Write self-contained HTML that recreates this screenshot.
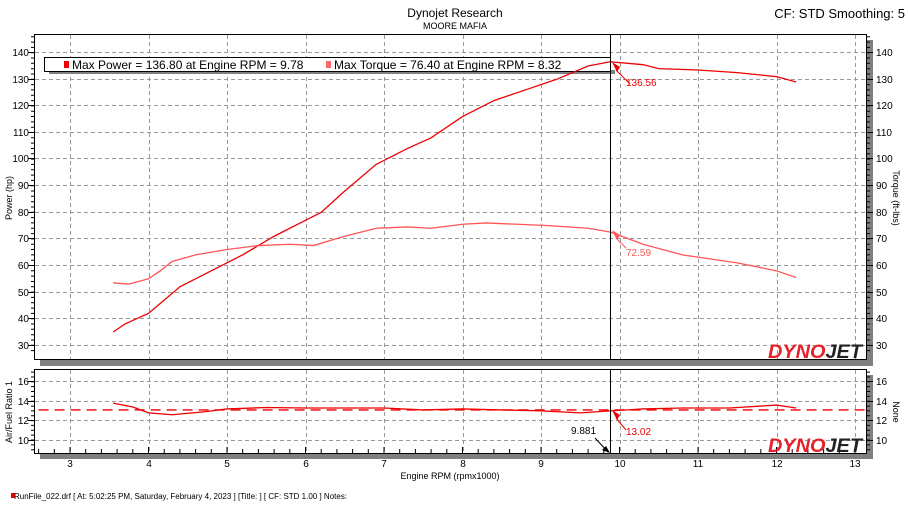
<!DOCTYPE html>
<html><head><meta charset="utf-8"><style>
body{margin:0;background:#fff;width:910px;height:512px;overflow:hidden;font-family:"Liberation Sans","DejaVu Sans",sans-serif}
</style></head><body>
<svg width="910" height="512" viewBox="0 0 910 512" xmlns="http://www.w3.org/2000/svg" font-family="Liberation Sans, DejaVu Sans, sans-serif">
<rect width="910" height="512" fill="#fff"/>
<text x="455" y="17" font-size="12" text-anchor="middle">Dynojet Research</text>
<text x="455" y="29" font-size="9" text-anchor="middle">MOORE MAFIA</text>
<text x="905" y="18" font-size="13" text-anchor="end">CF: STD Smoothing: 5</text>
<rect x="867" y="40" width="6" height="326" fill="#808080"/>
<rect x="40" y="359" width="833" height="7" fill="#808080"/>
<rect x="867" y="375" width="6" height="84" fill="#808080"/>
<rect x="40" y="453" width="833" height="6" fill="#808080"/>
<rect x="34.5" y="34.5" width="832" height="325" fill="#fff" stroke="#000"/>
<rect x="34.5" y="369.5" width="832" height="84" fill="#fff" stroke="#000"/>
<g stroke="#999" stroke-dasharray="4,3" stroke-width="1">
<path d="M70.5 35V359M149.5 35V359M227.5 35V359M306.5 35V359M384.5 35V359M463.5 35V359M541.5 35V359M620.5 35V359M698.5 35V359M777.5 35V359M855.5 35V359"/>
<path d="M70.5 370V453M149.5 370V453M227.5 370V453M306.5 370V453M384.5 370V453M463.5 370V453M541.5 370V453M620.5 370V453M698.5 370V453M777.5 370V453M855.5 370V453"/>
<path d="M35 52.5H866M35 79.5H866M35 105.5H866M35 132.5H866M35 158.5H866M35 185.5H866M35 212.5H866M35 238.5H866M35 265.5H866M35 292.5H866M35 318.5H866M35 345.5H866"/>
<path d="M35 381.5H866M35 401.5H866M35 420.5H866M35 440.5H866"/>
</g>
<g font-size="10" text-anchor="end" fill="#000">
<text x="29" y="56">140</text><text x="29" y="83">130</text><text x="29" y="109">120</text><text x="29" y="136">110</text><text x="29" y="162">100</text><text x="29" y="189">90</text><text x="29" y="216">80</text><text x="29" y="242">70</text><text x="29" y="269">60</text><text x="29" y="296">50</text><text x="29" y="322">40</text><text x="29" y="349">30</text>
<text x="29" y="385">16</text><text x="29" y="405">14</text><text x="29" y="424">12</text><text x="29" y="444">10</text>
</g>
<g font-size="10" fill="#000">
<text x="876" y="56">140</text><text x="876" y="83">130</text><text x="876" y="109">120</text><text x="876" y="136">110</text><text x="876" y="162">100</text><text x="876" y="189">90</text><text x="876" y="216">80</text><text x="876" y="242">70</text><text x="876" y="269">60</text><text x="876" y="296">50</text><text x="876" y="322">40</text><text x="876" y="349">30</text>
<text x="876" y="385">16</text><text x="876" y="405">14</text><text x="876" y="424">12</text><text x="876" y="444">10</text>
</g>
<g font-size="10" text-anchor="middle">
<text x="70" y="467">3</text><text x="149" y="467">4</text><text x="227" y="467">5</text><text x="306" y="467">6</text><text x="384" y="467">7</text><text x="463" y="467">8</text><text x="541" y="467">9</text><text x="620" y="467">10</text><text x="698" y="467">11</text><text x="777" y="467">12</text><text x="855" y="467">13</text>
<text x="450" y="479" font-size="9">Engine RPM (rpmx1000)</text>
</g>
<text font-size="9" transform="translate(12,198) rotate(-90)" text-anchor="middle">Power (hp)</text>
<text font-size="9" transform="translate(12,412) rotate(-90)" text-anchor="middle">Air/Fuel Ratio 1</text>
<text font-size="9" transform="translate(893,198) rotate(90)" text-anchor="middle">Torque (ft-lbs)</text>
<text font-size="9" transform="translate(893,412) rotate(90)" text-anchor="middle">None</text>
<g stroke="#000" id="ticks">
<path d="M34 52.5h-6M34 79.5h-6M34 105.5h-6M34 132.5h-6M34 158.5h-6M34 185.5h-6M34 212.5h-6M34 238.5h-6M34 265.5h-6M34 292.5h-6M34 318.5h-6M34 345.5h-6"/>
<path d="M867 52.5h6M867 79.5h6M867 105.5h6M867 132.5h6M867 158.5h6M867 185.5h6M867 212.5h6M867 238.5h6M867 265.5h6M867 292.5h6M867 318.5h6M867 345.5h6"/>
<path d="M34 381.5h-6M34 401.5h-6M34 420.5h-6M34 440.5h-6M867 381.5h6M867 401.5h6M867 420.5h6M867 440.5h6"/>
</g>
<rect x="49" y="70" width="566" height="4" fill="#808080"/>
<rect x="44.5" y="57.5" width="566" height="14" fill="#fff" stroke="#000"/>
<rect x="64" y="61" width="5" height="7" fill="#e00"/>
<text x="72" y="69" font-size="12">Max Power = 136.80 at Engine RPM = 9.78</text>
<rect x="326" y="61" width="5" height="7" fill="#f66"/>
<text x="334" y="69" font-size="12">Max Torque = 76.40 at Engine RPM = 8.32</text>
<g fill="none" stroke="#e00" stroke-width="1.3">
<g transform="translate(-165.5,425.1) scale(78.5,-2.66)">
<polyline vector-effect="non-scaling-stroke" points="3.55,35 3.7,38 4.0,42 4.2,47 4.4,52 4.8,58 5.2,64 5.6,71 6.0,77 6.2,80 6.5,88 6.9,98 7.1,101 7.3,104 7.6,108 8.0,116 8.4,122 8.8,126 9.2,130 9.6,135 9.88,136.6 10.3,135.5 10.5,134 11.0,133.5 11.5,132.5 12.0,131 12.25,129"/>
<polyline vector-effect="non-scaling-stroke" stroke="#f55" points="3.55,53.5 3.75,53 4.0,55 4.15,58 4.3,61.5 4.6,64 5.0,66 5.4,67.5 5.8,68 6.1,67.5 6.5,71 6.9,74 7.3,74.5 7.6,74 8.0,75.5 8.3,76 8.7,75.5 9.1,75 9.6,74 9.88,72.6 10.3,68 10.8,64 11.5,61 12.0,58 12.25,55.5"/>
</g>
<g transform="translate(-165.5,537) scale(78.5,-9.7)">
<polyline vector-effect="non-scaling-stroke" stroke-dasharray="10,6" points="2.6,13.1 13.2,13.1"/>
<polyline vector-effect="non-scaling-stroke" points="3.55,13.8 3.8,13.4 4.0,12.8 4.3,12.6 4.7,12.9 5.0,13.2 5.5,13.35 6.0,13.3 6.5,13.3 7.0,13.3 7.5,13.1 8.0,13.2 8.5,13.1 9.0,13.0 9.5,12.8 9.88,13.0 10.3,13.2 10.8,13.3 11.4,13.3 12.0,13.6 12.25,13.3"/>
</g>
</g>
<path d="M610.5 35V359M610.5 370V453" stroke="#000"/>
<path d="M612 62l5 10 3-5z" fill="#e00"/><path d="M616 70l14 14" stroke="#e00"/>
<text x="626" y="86" font-size="10" fill="#e00">136.56</text>
<path d="M612 230l5 10 3-5z" fill="#f55"/><path d="M616 238l10 10" stroke="#f55"/>
<text x="626" y="256" font-size="10" fill="#f55">72.59</text>
<path d="M612 410l5 10 3-5z" fill="#e00"/><path d="M616 418l10 12" stroke="#e00"/>
<text x="626" y="435" font-size="10" fill="#e00">13.02</text>
<text x="571" y="434" font-size="10">9.881</text>
<path d="M595 438l13 14" stroke="#000"/><path d="M610 453l-8-3 4-4z" fill="#000"/>
<g font-size="19" font-weight="bold" font-style="italic" font-family="Liberation Sans, sans-serif">
<text x="768" y="358" fill="#e8202a" textLength="94" lengthAdjust="spacingAndGlyphs">DYNO<tspan fill="#222">JET</tspan></text>
<text x="768" y="452" fill="#e8202a" textLength="94" lengthAdjust="spacingAndGlyphs">DYNO<tspan fill="#222">JET</tspan></text>
</g>
<rect x="11" y="493" width="4" height="5" fill="#e00"/>
<text x="14" y="499" font-size="8">RunFile_022.drf [ At:  5:02:25 PM, Saturday, February 4, 2023 ] [Title: ]  [ CF: STD 1.00 ] Notes:</text>
</svg>
<script>
(function(){
var g=document.getElementById('ticks'),d='';
for(var v=28;v<=146;v+=2){var y=(425.1-2.66*v).toFixed(1);if(y<35||y>359)continue;d+='M34 '+y+'h-3M867 '+y+'h3';}
for(var v=9;v<=17;v+=0.5){var y=(537-9.7*v).toFixed(1);if(y<370||y>453)continue;d+='M34 '+y+'h-3M867 '+y+'h3';}
for(var r=2.6;r<=13.2;r+=0.2){var x=(-165.5+78.5*r).toFixed(1);if(x<35||x>866)continue;var big=Math.abs(r-Math.round(r))<0.01;d+='M'+x+' 453v'+(big?-6:-4);}
var p=document.createElementNS('http://www.w3.org/2000/svg','path');p.setAttribute('d',d);g.appendChild(p);
})();
</script>
</body></html>
